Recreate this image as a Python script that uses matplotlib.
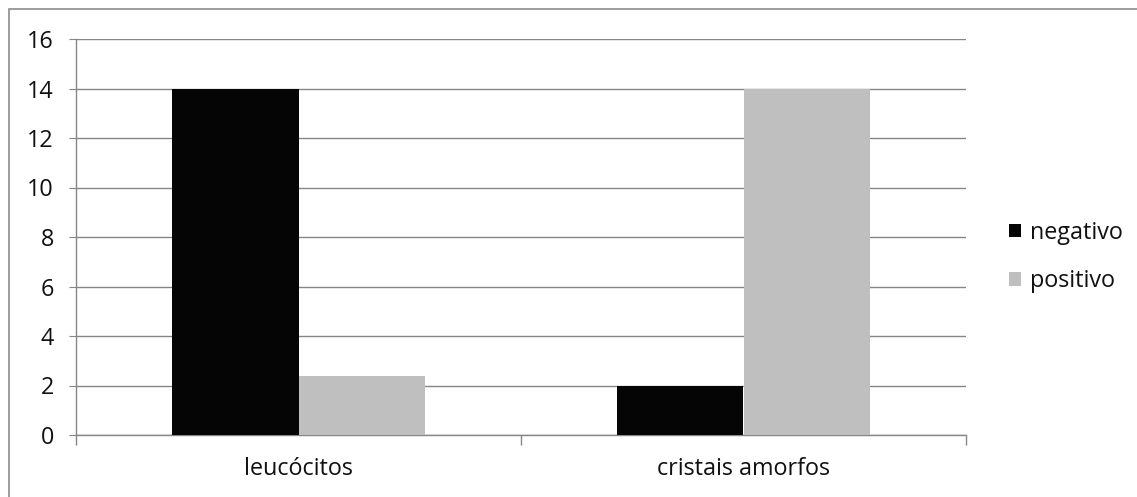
import matplotlib
matplotlib.use("Agg")
import matplotlib.pyplot as plt
import numpy as np
from matplotlib.patches import Rectangle

categories = ["leucócitos", "cristais amorfos"]
negativo = [14, 2]
positivo = [2.4, 14]
series_names = ["negativo", "positivo"]
y_ticks = [0, 2, 4, 6, 8, 10, 12, 14, 16]

GRID = "#868686"
TXT = "#111111"
FS = 16.8
plt.rcParams["font.family"] = ["Open Sans", "DejaVu Sans"]

fig = plt.figure(figsize=(11.37, 4.97), dpi=100)
ax = fig.add_axes([76 / 1137, 1 - 435 / 497, (966 - 76) / 1137, (435 - 39) / 497])

# outer chart border (runs off right/bottom edge like the screenshot)
fig.patches.append(Rectangle((9 / 1137, -0.1), 1.2, 1 - 9 / 497 + 0.1,
                             transform=fig.transFigure, fill=False,
                             edgecolor="#8c8c8c", linewidth=1.2))

x = np.arange(len(categories))
w = 0.285
ax.bar(x - w / 2, negativo, width=w, color="#050505", label=series_names[0], zorder=3)
ax.bar(x + w / 2, positivo, width=w, color="#bfbfbf", label=series_names[1], zorder=3)

ax.set_xlim(-0.5, 1.5)
ax.set_ylim(0, 16)
ax.set_yticks(y_ticks)
ax.yaxis.grid(True, color=GRID, linewidth=1.0, zorder=0)
ax.set_axisbelow(True)

for s in ["top", "right"]:
    ax.spines[s].set_visible(False)
for s in ["left", "bottom"]:
    ax.spines[s].set_color(GRID)
    ax.spines[s].set_linewidth(1.0)

ax.tick_params(axis="y", length=5, color=GRID, pad=11, labelsize=FS, labelcolor=TXT)
ax.set_xticks(x)
ax.set_xticklabels(categories)
ax.tick_params(axis="x", length=0, pad=16, labelsize=FS, labelcolor=TXT)
# category separator ticks
ax.set_xticks([-0.5, 0.5, 1.5], minor=True)
ax.tick_params(axis="x", which="minor", length=7, color=GRID, width=1.0)

leg = fig.legend(loc="center left", bbox_to_anchor=(1000 / 1137, 1 - 257 / 497),
                 frameon=False, fontsize=FS, handlelength=0.5, handleheight=0.5,
                 handletextpad=0.4, labelspacing=1.05, borderaxespad=0)
for t in leg.get_texts():
    t.set_color(TXT)

fig.savefig("out.png", dpi=100)
